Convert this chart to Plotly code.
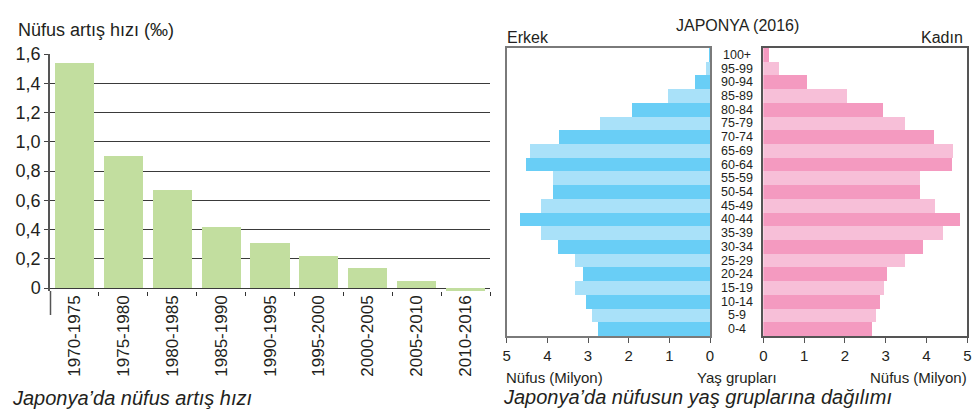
import plotly.graph_objects as go

# ---------------- data ----------------
periods = ["1970-1975", "1975-1980", "1980-1985", "1985-1990", "1990-1995",
           "1995-2000", "2000-2005", "2005-2010", "2010-2016"]
growth_rate = [1.54, 0.90, 0.67, 0.42, 0.31, 0.22, 0.14, 0.05, -0.02]
growth_ticks = [0, 0.2, 0.4, 0.6, 0.8, 1.0, 1.2, 1.4, 1.6]
growth_ticktext = ["0", "0,2", "0,4", "0,6", "0,8", "1,0", "1,2", "1,4", "1,6"]

age_groups = ["0-4", "5-9", "10-14", "15-19", "20-24", "25-29", "30-34", "35-39",
              "40-44", "45-49", "50-54", "55-59", "60-64", "65-69", "70-74",
              "75-79", "80-84", "85-89", "90-94", "95-99", "100+"]
male_mil = [2.76, 2.91, 3.05, 3.33, 3.13, 3.33, 3.74, 4.16, 4.68, 4.16, 3.87,
            3.87, 4.53, 4.43, 3.72, 2.71, 1.92, 1.03, 0.37, 0.10, 0.01]
female_mil = [2.66, 2.76, 2.86, 2.96, 3.03, 3.47, 3.91, 4.40, 4.82, 4.21, 3.84,
              3.84, 4.62, 4.65, 4.18, 3.49, 2.93, 2.05, 1.07, 0.38, 0.14]
pop_ticks = [0, 1, 2, 3, 4, 5]

# ---------------- style ----------------
W, H = 979, 411
TXT = "#231F20"
FONT = "Liberation Sans, Arial, sans-serif"
GREEN = "#C2DE9F"
BLUE_D, BLUE_L = "#69CEF6", "#A9E1F9"
PINK_D, PINK_L = "#F49AC0", "#F7BFD8"
FRAME = "#7A7A7A"


def px_x(x):
    return x / W


def px_y(y):
    return 1 - y / H


male_colors = [BLUE_D if i % 2 == 0 else BLUE_L for i in range(len(age_groups))]
female_colors = [PINK_D if i % 2 == 0 else PINK_L for i in range(len(age_groups))]

fig = go.Figure()

fig.add_trace(go.Bar(x=periods, y=growth_rate, width=0.8, marker_color=GREEN,
                     marker_line_width=0, xaxis="x", yaxis="y", showlegend=False))
fig.add_trace(go.Bar(y=age_groups, x=male_mil, orientation="h", width=1,
                     marker_color=male_colors, marker_line_width=0,
                     xaxis="x2", yaxis="y2", showlegend=False))
fig.add_trace(go.Bar(y=age_groups, x=female_mil, orientation="h", width=1,
                     marker_color=female_colors, marker_line_width=0,
                     xaxis="x3", yaxis="y3", showlegend=False))

tickfont = dict(family=FONT, size=17, color=TXT)
ytickfont = dict(family=FONT, size=18, color=TXT)
pfont = dict(family=FONT, size=15, color=TXT)

fig.update_layout(
    width=W, height=H,
    margin=dict(l=0, r=0, t=0, b=0, autoexpand=False),
    paper_bgcolor="white", plot_bgcolor="rgba(0,0,0,0)",
    bargap=0,
    font=dict(family=FONT, color=TXT),
    xaxis=dict(domain=[px_x(50), px_x(490)], anchor="y", type="category",
               tickson="boundaries", ticks="outside", ticklen=4, tickcolor="#333",
               tickwidth=1.3, showline=False, showgrid=False, tickangle=-90,
               tickfont=tickfont, fixedrange=True, automargin=False),
    yaxis=dict(domain=[px_y(291), px_y(54)], anchor="x", range=[-0.02, 1.6],
               tickvals=growth_ticks, ticktext=growth_ticktext,
               ticks="outside", ticklen=4, tickcolor="#444", tickwidth=1.3,
               showline=True, linecolor="#555", linewidth=1.5,
               showgrid=True, gridcolor="#3A3A3A", gridwidth=1.4,
               zeroline=True, zerolinecolor="#3A3A3A", zerolinewidth=1.4,
               tickfont=ytickfont, fixedrange=True, automargin=False),
    xaxis2=dict(domain=[px_x(506.7), px_x(710)], anchor="y2", range=[5, 0],
                tickvals=pop_ticks, ticks="outside", ticklen=5, tickcolor="#555",
                showline=True, mirror=True, linecolor=FRAME, linewidth=1.5,
                showgrid=False, zeroline=False, tickfont=pfont, fixedrange=True,
                automargin=False),
    yaxis2=dict(domain=[px_y(336), px_y(48)], anchor="x2", type="category",
                range=[-0.5, 20.5], showticklabels=False, ticks="",
                showline=True, mirror=True, linecolor=FRAME, linewidth=1.5,
                showgrid=False, fixedrange=True, automargin=False),
    xaxis3=dict(domain=[px_x(763.3), px_x(967.3)], anchor="y3", range=[0, 5],
                tickvals=pop_ticks, ticks="outside", ticklen=5, tickcolor="#555",
                showline=True, mirror=True, linecolor="#555", linewidth=1.5,
                showgrid=False, zeroline=False, tickfont=pfont, fixedrange=True,
                automargin=False),
    yaxis3=dict(domain=[px_y(336), px_y(48)], anchor="x3", type="category",
                range=[-0.5, 20.5], showticklabels=False, ticks="",
                showline=True, mirror=True, linecolor="#555", linewidth=1.5,
                showgrid=False, fixedrange=True, automargin=False),
)

# extension of the left y-axis line below zero
fig.add_shape(type="line", xref="paper", yref="paper",
              x0=px_x(50.5), x1=px_x(50.5), y0=px_y(291), y1=px_y(315),
              line=dict(color="#555", width=1.5))

# age group labels between the pyramid halves
for ag in age_groups:
    fig.add_annotation(x=px_x(737), xref="paper", y=ag, yref="y2", text=ag,
                       showarrow=False, xanchor="center", yanchor="middle",
                       borderpad=0,
                       font=dict(family=FONT, size=12.5, color=TXT))


def txt(x, y, s, size, anchor="left", italic=False):
    fig.add_annotation(x=px_x(x), y=px_y(y), xref="paper", yref="paper",
                       text=s, showarrow=False, xanchor=anchor, yanchor="middle",
                       font=dict(family=FONT, size=size, color=TXT,
                                 style="italic" if italic else "normal"))


txt(16, 30, "Nüfus artış hızı (‰)", 18)
txt(10, 398, "Japonya’da nüfus artış hızı", 20, italic=True)
txt(737, 25, "JAPONYA (2016)", 16, anchor="center")
txt(505, 37, "Erkek", 16)
txt(965, 37, "Kadın", 16, anchor="right")
txt(504, 377, "Nüfus (Milyon)", 15)
txt(737, 377, "Yaş grupları", 15, anchor="center")
txt(969, 377, "Nüfus (Milyon)", 15, anchor="right")
txt(501, 397, "Japonya’da nüfusun yaş gruplarına dağılımı", 20, italic=True)

fig.write_html("out.html", config={"displayModeBar": False},
               post_script="document.body.style.margin='0';"
                           "document.body.style.overflow='hidden';")
